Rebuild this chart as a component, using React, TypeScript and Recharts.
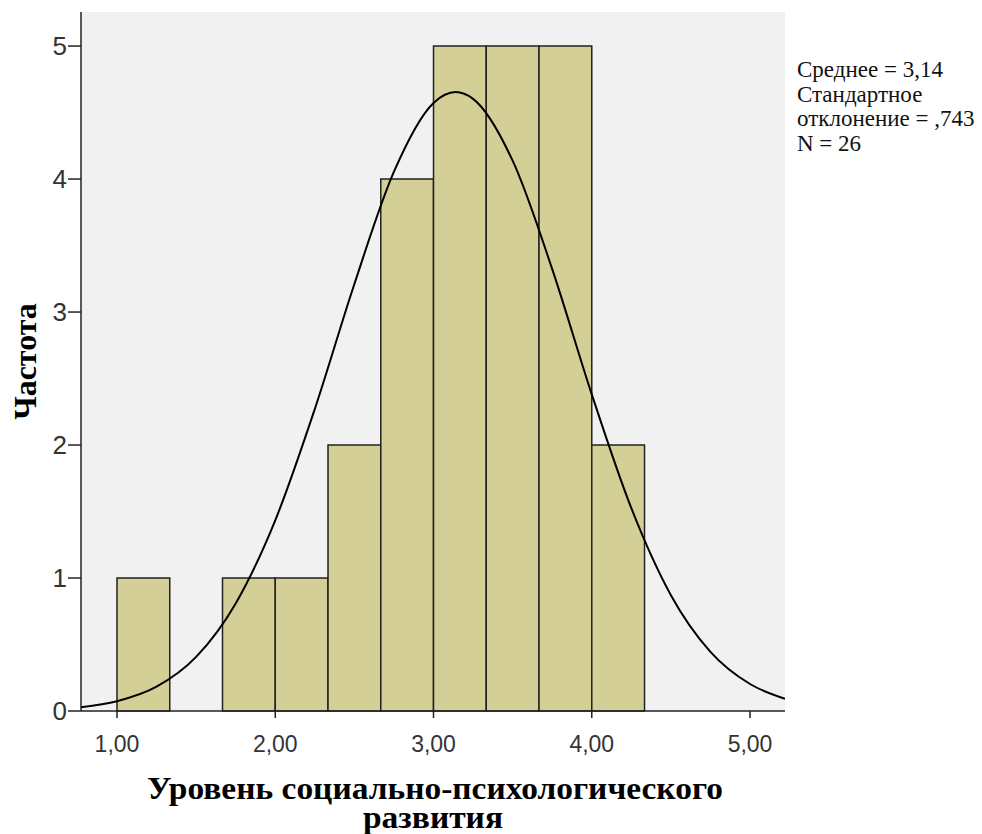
import React from "react";
import { ComposedChart, Line, XAxis, YAxis, ReferenceArea, Label, CartesianGrid } from "recharts";

// Histogram bins (edges) and frequencies
const binEdges = [1.0, 1.3333, 1.6667, 2.0, 2.3333, 2.6667, 3.0, 3.3333, 3.6667, 4.0, 4.3333];
const binCounts = [1, 0, 1, 1, 2, 4, 5, 5, 5, 2];

// Fitted normal curve
const curveX = [0.7725, 1.0, 1.25, 1.5, 1.75, 2.0, 2.25, 2.5, 2.75, 3.0, 3.14, 3.25, 3.5, 3.75, 4.0, 4.25, 4.5, 4.75, 5.0, 5.221];
const curveY = [0.029, 0.074, 0.183, 0.407, 0.809, 1.434, 2.271, 3.211, 4.055, 4.572, 4.654, 4.603, 4.138, 3.323, 2.381, 1.525, 0.871, 0.445, 0.203, 0.092];

const xTicks = [1, 2, 3, 4, 5];
const yTicks = [0, 1, 2, 3, 4, 5];
const xDomain = [0.7725, 5.221];
const yDomain = [0, 5.256];

const statsLines = ["Среднее = 3,14", "Стандартное", "отклонение = ,743", "N = 26"];
const xTitleLines = ["Уровень социально-психологического", "развития"];
const yTitle = "Частота";

const curveData = curveX.map((x, i) => ({ x, y: curveY[i] }));

const XTitle = (props: any) => {
  const vb = props.viewBox || {};
  const cx = vb.x + vb.width / 2;
  return (
    <g fontFamily="Liberation Serif" fontWeight="bold" fontSize={32} fill="#000">
      <text x={cx + 2} y={vb.y + 88} textAnchor="middle" textLength={576} lengthAdjust="spacingAndGlyphs">
        {xTitleLines[0]}
      </text>
      <text x={cx} y={vb.y + 117} textAnchor="middle" textLength={140} lengthAdjust="spacingAndGlyphs">
        {xTitleLines[1]}
      </text>
    </g>
  );
};

const YTitle = (props: any) => {
  const vb = props.viewBox || {};
  const cy = vb.y + vb.height / 2;
  const cx = 17;
  return (
    <text
      x={cx}
      y={cy}
      transform={`rotate(-90, ${cx}, ${cy})`}
      textAnchor="middle"
      dominantBaseline="central"
      fontFamily="Liberation Serif"
      fontWeight="bold"
      fontSize={32}
      fill="#000"
    >
      {yTitle}
    </text>
  );
};

export default function App() {
  return (
    <div style={{ position: "relative", width: 966, height: 826 }}>
      <style>{"html,body{overflow:hidden;}"}</style>
      <ComposedChart
        width={966}
        height={826}
        data={curveData}
        margin={{ top: 4, right: 189, bottom: 0, left: 0 }}
      >
        <CartesianGrid horizontal={false} vertical={false} fill="#F0F1F0" />
        <XAxis
          type="number"
          dataKey="x"
          domain={xDomain}
          allowDataOverflow
          ticks={xTicks}
          tickFormatter={(v: number) => v.toFixed(2).replace(".", ",")}
          tickSize={7}
          tickMargin={18}
          axisLine={{ stroke: "#222", strokeWidth: 1.5 }}
          tickLine={{ stroke: "#222", strokeWidth: 1.5 }}
          tick={{ fill: "#333", fontSize: 23, fontFamily: "Liberation Sans" }}
          height={123}
        >
          <Label content={<XTitle />} />
        </XAxis>
        <XAxis
          xAxisId="top"
          orientation="top"
          type="number"
          domain={xDomain}
          allowDataOverflow
          tick={false}
          tickLine={false}
          axisLine={{ stroke: "#888", strokeWidth: 2 }}
          height={0}
        />
        <YAxis
          type="number"
          domain={yDomain}
          allowDataOverflow
          ticks={yTicks}
          tickSize={13}
          tickMargin={1}
          width={73}
          axisLine={{ stroke: "#222", strokeWidth: 1.5 }}
          tickLine={{ stroke: "#222", strokeWidth: 1.5 }}
          tick={{ fill: "#333", fontSize: 26, fontFamily: "Liberation Sans" }}
        >
          <Label content={<YTitle />} />
        </YAxis>
        <YAxis
          yAxisId="right"
          orientation="right"
          type="number"
          domain={yDomain}
          tick={false}
          tickLine={false}
          axisLine={{ stroke: "#777", strokeWidth: 1.5 }}
          width={0}
        />
        {binCounts.map((c, i) =>
          c > 0 ? (
            <ReferenceArea
              key={i}
              x1={binEdges[i]}
              x2={binEdges[i + 1]}
              y1={0}
              y2={c}
              fill="#D4CF96"
              fillOpacity={1}
              stroke="#222"
              strokeWidth={1.5}
            />
          ) : null
        )}
        <Line
          type="monotone"
          dataKey="y"
          stroke="#000"
          strokeWidth={2}
          dot={false}
          activeDot={false}
          isAnimationActive={false}
        />
      </ComposedChart>
      <div
        style={{
          position: "absolute",
          left: 789,
          top: 50,
          fontFamily: "Liberation Serif",
          fontSize: 23,
          lineHeight: "24.5px",
          color: "#111",
          whiteSpace: "nowrap",
        }}
      >
        {statsLines.map((s, i) => (
          <div key={i}>{s}</div>
        ))}
      </div>
    </div>
  );
}
